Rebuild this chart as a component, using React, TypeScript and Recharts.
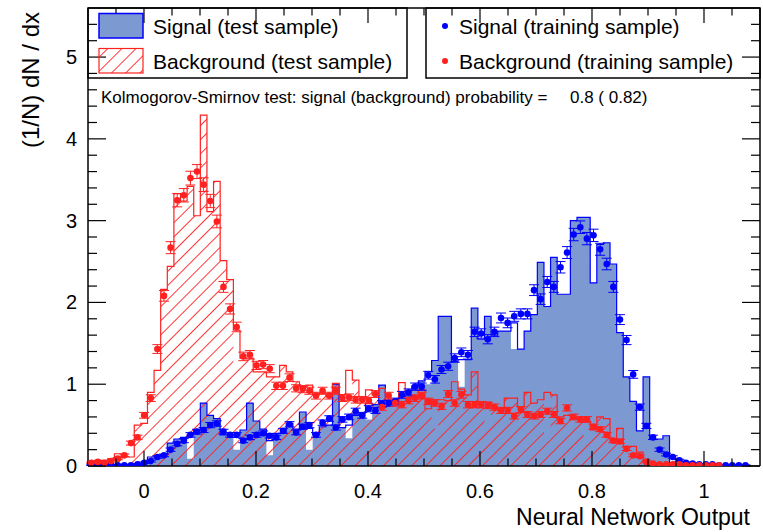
import React from "react";
import { ComposedChart, Area, Line, Scatter, ErrorBar, XAxis, YAxis } from "recharts";

const W = 763;
const H = 532;
const FRAME = { left: 88, right: 760, top: 8, bottom: 466 };
const FONT = '"Liberation Sans", Arial, Helvetica, sans-serif';

// binning of the network output histograms
const X_MIN = -0.1;
const BIN_WIDTH = 0.0118;
const X_DOMAIN: [number, number] = [-0.1, 1.1];
const Y_DOMAIN: [number, number] = [0, 5.6];

// signal, test sample (filled histogram outline)
const sigTest = [
  0.01, 0.01, 0.01, 0.01, 0.02, 0.02, 0.02, 0.03, 0.03, 0.11,
  0.12, 0.14, 0.28, 0.33, 0.35, 0.38, 0.44, 0.77, 0.62, 0.58,
  0.38, 0.38, 0.38, 0.44, 0.77, 0.55, 0.45, 0.31, 0.4, 0.4,
  0.52, 0.45, 0.66, 0.46, 0.38, 0.48, 0.5, 1.0, 0.47, 0.5,
  0.62, 0.65, 0.77, 0.75, 0.99, 0.8, 0.75, 0.85, 0.92, 0.98,
  1.04, 1.15, 1.29, 1.83, 1.83, 1.28, 1.3, 1.3, 1.93, 1.55,
  1.83, 1.6, 1.65, 1.65, 1.75, 1.43, 1.65, 1.85, 2.49, 1.95,
  2.55, 2.1, 2.1, 3.0, 3.04, 3.04, 2.24, 2.71, 2.73, 2.47,
  1.63, 1.09, 0.79, 0.43, 1.09, 0.33, 0.33, 0.37, 0.03, 0.02,
  0.02, 0.01, 0.01, 0.01, 0, 0, 0, 0, 0, 0,
];
// bins where the signal fill stops short of the outline: [bin, fill height]
const sigFillGaps: [number, number][] = [
  [9, 0.03], [15, 0.09], [22, 0.2], [27, 0.13], [33, 0.2], [39, 0.34],
  [42, 0.57], [51, 1.0], [56, 0.97], [64, 1.43],
];

// background, test sample (hatched histogram outline)
const bgTest = [
  0.04, 0.07, 0.07, 0.09, 0.15, 0.12, 0.11, 0.5, 0.52, 0.9,
  1.17, 2.16, 2.44, 3.33, 3.24, 3.42, 3.06, 4.29, 3.11, 3.48,
  2.51, 2.28, 1.66, 1.32, 1.32, 1.15, 1.15, 1.09, 1.09, 1.23,
  1.15, 1.03, 0.97, 0.99, 0.87, 0.89, 0.85, 1.01, 0.87, 1.17,
  1.05, 0.83, 0.93, 0.87, 0.95, 0.79, 0.77, 1.02, 0.87, 0.83,
  0.93, 0.7, 0.81, 0.81, 0.8, 1.03, 0.94, 0.87, 1.15, 0.78,
  0.78, 0.72, 0.7, 0.83, 0.83, 0.72, 0.9, 0.77, 0.81, 0.9,
  0.87, 0.6, 0.62, 0.58, 0.58, 0.55, 0.44, 0.6, 0.58, 0.3,
  0.46, 0.24, 0.24, 0.17, 0.08, 0.04, 0.03, 0.02, 0.02, 0.02,
  0.02, 0.01, 0.01, 0.01, 0.01, 0.01, 0, 0, 0, 0,
];
const bgFillGaps: [number, number][] = [
  [22, 1.23], [34, 0.77], [39, 0.87], [44, 0.66], [47, 0.68],
  [52, 0.46], [55, 0.78], [60, 0.51], [69, 0.32], [75, 0.35],
];

// training samples (points with statistical errors)
const sigTrain = [
  0.01, 0.01, 0.01, 0.01, 0.01, 0.01, 0.01, 0.02, 0.04, 0.06,
  0.11, 0.13, 0.2, 0.27, 0.31, 0.38, 0.42, 0.44, 0.5, 0.52,
  0.42, 0.38, 0.38, 0.31, 0.35, 0.38, 0.4, 0.37, 0.35, 0.43,
  0.51, 0.41, 0.48, 0.5, 0.38, 0.53, 0.58, 0.47, 0.57, 0.6,
  0.67, 0.62, 0.7, 0.68, 0.76, 0.77, 0.79, 0.87, 0.9, 0.97,
  0.97, 1.11, 1.06, 1.18, 1.22, 1.32, 1.39, 1.36, 1.64, 1.62,
  1.55, 1.64, 1.81, 1.75, 1.83, 1.86, 1.86, 2.15, 2.04, 2.25,
  2.19, 2.43, 2.61, 2.83, 2.92, 2.78, 2.82, 2.65, 2.47, 2.19,
  1.79, 1.54, 1.12, 0.72, 0.49, 0.35, 0.2, 0.14, 0.11, 0.07,
  0.04, 0.03, 0.02, 0.02, 0.02, 0.01, 0.01, 0.01, 0.01, 0.01,
];
const bgTrain = [
  0.04, 0.05, 0.04, 0.06, 0.09, 0.13, 0.28, 0.35, 0.62, 0.83,
  1.43, 2.08, 2.67, 3.25, 3.31, 3.52, 3.6, 3.44, 3.24, 2.99,
  2.19, 1.92, 1.7, 1.34, 1.36, 1.23, 1.24, 1.19, 0.98, 0.98,
  1.08, 0.95, 0.94, 0.92, 0.86, 0.92, 0.86, 0.92, 0.83, 0.84,
  0.81, 0.81, 0.8, 0.88, 0.72, 0.86, 0.77, 0.75, 0.8, 0.83,
  0.86, 0.79, 0.77, 0.73, 0.88, 0.77, 0.87, 0.75, 0.75, 0.75,
  0.74, 0.72, 0.68, 0.68, 0.61, 0.69, 0.63, 0.61, 0.63, 0.67,
  0.63, 0.55, 0.71, 0.6, 0.57, 0.57, 0.48, 0.45, 0.38, 0.31,
  0.3, 0.21, 0.13, 0.12, 0.05, 0.03, 0.02, 0.02, 0.02, 0.02,
  0.01, 0.01, 0.01, 0.01, 0.01, 0.01, 0, 0, 0, 0,
];
// error bar size per bin goes as sqrt of the bin content
const ERR_SCALE = 0.045;

const xTicks = Array.from({ length: 23 }, (_, i) => +(-0.05 + i * 0.05).toFixed(2));
const yTicks = Array.from({ length: 28 }, (_, i) => +(i * 0.2).toFixed(1));

const BLUE = "#0000ff";
const BLUE_FILL = "#7d99d1";
const RED = "#ff2020";

const withGaps = (vals: number[], gaps: [number, number][]) => {
  const out = [...vals];
  gaps.forEach(([i, v]) => (out[i] = v));
  return out;
};
const sigFill = withGaps(sigTest, sigFillGaps);
const bgFill = withGaps(bgTest, bgFillGaps);

// one row per bin edge, last edge repeats the last bin so the step closes
const histData = Array.from({ length: sigTest.length + 1 }, (_, i) => {
  const j = Math.min(i, sigTest.length - 1);
  return {
    x: X_MIN + i * BIN_WIDTH,
    sigLine: sigTest[j],
    sigFill: sigFill[j],
    bgLine: bgTest[j],
    bgFill: bgFill[j],
  };
});

const trainPoints = (vals: number[]) =>
  vals
    .map((y, i) => ({ x: X_MIN + (i + 0.5) * BIN_WIDTH, y, err: ERR_SCALE * Math.sqrt(y) }))
    .filter((p) => p.y > 0);

const sigPoints = trainPoints(sigTrain);
const bgPoints = trainPoints(bgTrain);

const isMajorX = (v: number) => Math.abs(v * 5 - Math.round(v * 5)) < 1e-6;
const isMajorY = (v: number) => Math.abs(v - Math.round(v)) < 1e-6;

const BottomTick = (props: any) => {
  const { x, payload } = props;
  const v = payload.value as number;
  const major = isMajorX(v);
  return (
    <g>
      <line x1={x} x2={x} y1={FRAME.bottom} y2={FRAME.bottom - (major ? 15 : 7.5)} stroke="#000" strokeWidth={1.2} />
      {major && (
        <text x={x} y={FRAME.bottom + 25} textAnchor="middle" dominantBaseline="central" fontSize={20} fontFamily={FONT} fill="#000">
          {String(Math.round(v * 10) / 10)}
        </text>
      )}
    </g>
  );
};

const TopTick = (props: any) => {
  const { x, payload } = props;
  const major = isMajorX(payload.value);
  return <line x1={x} x2={x} y1={FRAME.top} y2={FRAME.top + (major ? 15 : 7.5)} stroke="#000" strokeWidth={1.2} />;
};

const LeftTick = (props: any) => {
  const { y, payload } = props;
  const v = payload.value as number;
  const major = isMajorY(v);
  return (
    <g>
      <line x1={FRAME.left} x2={FRAME.left + (major ? 18 : 9)} y1={y} y2={y} stroke="#000" strokeWidth={1.2} />
      {major && (
        <text x={77} y={y} textAnchor="end" dominantBaseline="central" fontSize={20} fontFamily={FONT} fill="#000">
          {String(Math.round(v))}
        </text>
      )}
    </g>
  );
};

const RightTick = (props: any) => {
  const { y, payload } = props;
  const major = isMajorY(payload.value);
  return <line x1={FRAME.right} x2={FRAME.right - (major ? 18 : 9)} y1={y} y2={y} stroke="#000" strokeWidth={1.2} />;
};

const marker = (color: string) => (p: any) => <circle cx={p.cx} cy={p.cy} r={3.3} fill={color} />;

const axisLine = { stroke: "#000", strokeWidth: 1.5 };

// diagonal hatch for the background test histogram: thin filled stripes in a rotated tile
const HatchDefs = () => (
  <svg width={1} height={1} style={{ position: "absolute", left: 0, top: 0, overflow: "hidden" }}>
    <defs>
      <pattern id="bgHatch" patternUnits="userSpaceOnUse" width={10} height={10} patternTransform="rotate(45)">
        <rect x={0} y={0} width={1} height={10} style={{ fill: RED, fillOpacity: 0.9 }} />
      </pattern>
    </defs>
  </svg>
);

export default function App() {
  return (
    <div style={{ position: "absolute", left: 0, top: 0, width: W, height: H, background: "#fff" }}>
      <HatchDefs />
      <ComposedChart width={W} height={H} data={histData} margin={{ top: 0, right: 0, bottom: 0, left: 0 }}>
        <XAxis
          dataKey="x"
          type="number"
          domain={X_DOMAIN}
          allowDataOverflow
          ticks={xTicks}
          interval={0}
          height={H - FRAME.bottom}
          tick={<BottomTick />}
          tickLine={false}
          axisLine={axisLine}
        />
        <XAxis
          xAxisId="top"
          orientation="top"
          dataKey="x"
          type="number"
          domain={X_DOMAIN}
          allowDataOverflow
          ticks={xTicks}
          interval={0}
          height={FRAME.top}
          tick={<TopTick />}
          tickLine={false}
          axisLine={axisLine}
        />
        <YAxis
          type="number"
          domain={Y_DOMAIN}
          allowDataOverflow
          ticks={yTicks}
          interval={0}
          width={FRAME.left}
          tick={<LeftTick />}
          tickLine={false}
          axisLine={axisLine}
        />
        <YAxis
          yAxisId="right"
          orientation="right"
          type="number"
          domain={Y_DOMAIN}
          allowDataOverflow
          ticks={yTicks}
          interval={0}
          width={W - FRAME.right}
          tick={<RightTick />}
          tickLine={false}
          axisLine={axisLine}
        />
        <Area type="stepAfter" dataKey="sigFill" stroke="none" fill={BLUE_FILL} fillOpacity={1} isAnimationActive={false} />
        <Line type="stepAfter" dataKey="sigLine" stroke={BLUE} strokeWidth={1.2} dot={false} activeDot={false} isAnimationActive={false} />
        <Area type="stepAfter" dataKey="bgFill" stroke="none" fill="url(#bgHatch)" fillOpacity={1} isAnimationActive={false} />
        <Line type="stepAfter" dataKey="bgLine" stroke={RED} strokeWidth={1.2} dot={false} activeDot={false} isAnimationActive={false} />
        <Scatter data={sigPoints} dataKey="y" fill={BLUE} shape={marker(BLUE)} isAnimationActive={false}>
          <ErrorBar dataKey="err" direction="y" width={5} stroke={BLUE} strokeWidth={1} />
        </Scatter>
        <Scatter data={bgPoints} dataKey="y" fill={RED} shape={marker(RED)} isAnimationActive={false}>
          <ErrorBar dataKey="err" direction="y" width={5} stroke={RED} strokeWidth={1} />
        </Scatter>
      </ComposedChart>

      <svg width={W} height={H} style={{ position: "absolute", left: 0, top: 0, pointerEvents: "none" }} fontFamily={FONT}>
        {/* legend: test samples */}
        <rect x={88} y={8} width={319} height={70} fill="none" stroke="#000" strokeWidth={1.5} />
        <rect x={99} y={13.5} width={44} height={24.5} fill={BLUE_FILL} stroke={BLUE} strokeWidth={1.5} />
        <rect x={99} y={48.5} width={44} height={24.5} fill="url(#bgHatch)" stroke={RED} strokeWidth={1.2} />
        <text x={153} y={26} dominantBaseline="central" fontSize={21} fill="#000">Signal (test sample)</text>
        <text x={153} y={61} dominantBaseline="central" fontSize={21} fill="#000">Background (test sample)</text>

        {/* legend: training samples */}
        <rect x={426} y={8} width={334} height={70} fill="none" stroke="#000" strokeWidth={1.5} />
        <circle cx={445} cy={26} r={3} fill={BLUE} />
        <circle cx={445} cy={61} r={3} fill={RED} />
        <text x={459} y={26} dominantBaseline="central" fontSize={21} fill="#000">Signal (training sample)</text>
        <text x={459} y={61} dominantBaseline="central" fontSize={21} fill="#000">Background (training sample)</text>

        <text x={101} y={97} dominantBaseline="central" fontSize={17} fill="#000">
          Kolmogorov-Smirnov test: signal (background) probability =
        </text>
        <text x={570} y={97} dominantBaseline="central" fontSize={17} fill="#000">0.8 ( 0.82)</text>

        {/* axis titles */}
        <text x={750} y={517} textAnchor="end" dominantBaseline="central" fontSize={23} fill="#000">
          Neural Network Output
        </text>
        <text transform="translate(30,12) rotate(-90)" textAnchor="end" dominantBaseline="central" fontSize={24} fill="#000">
          (1/N) dN / dx
        </text>
      </svg>
    </div>
  );
}
